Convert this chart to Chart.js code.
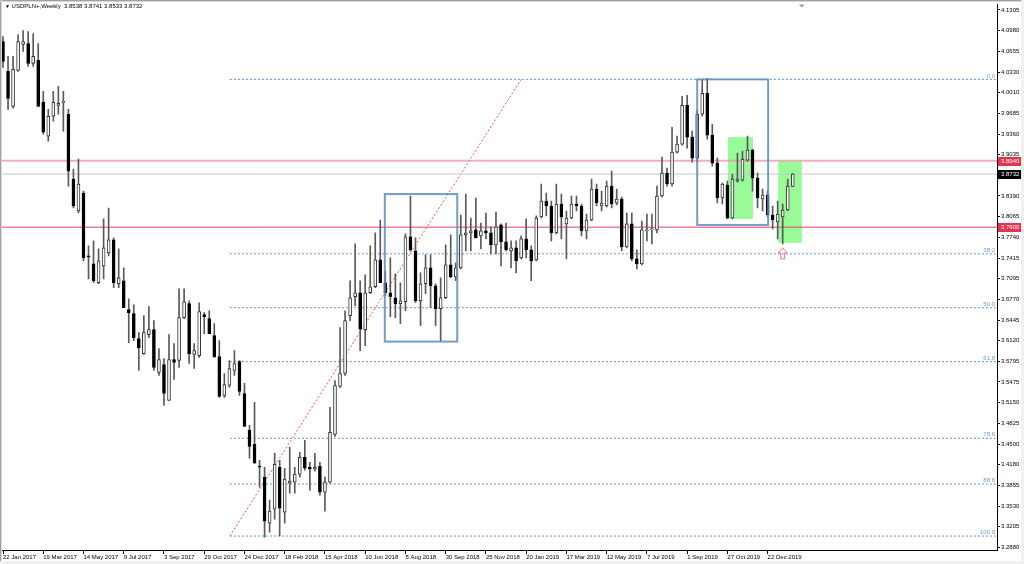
<!DOCTYPE html>
<html>
<head>
<meta charset="utf-8">
<script src="https://cdn.jsdelivr.net/npm/chart.js@4.4.1/dist/chart.umd.min.js"></script>
<style>
  html, body { margin: 0; padding: 0; background: #fff; }
  #wrap { position: relative; width: 1024px; height: 564px; overflow: hidden; }
  #title { position: absolute; left: 5px; top: 3px; font: 6px "Liberation Sans", Arial, sans-serif; color: #000; white-space: pre; }
  #title span { font-size: 5px; }
</style>
</head>
<body>
<div id="wrap">
  <canvas id="chart" width="1024" height="564"></canvas>
  <div id="title"><span>▼</span> USDPLN+,Weekly  3.8538 3.8741 3.8533 3.8732</div>
</div>
<script>
// weekly candles, 22 Jan 2017 .. Jan 2020
const opens = [
  4.0810, 4.0341, 3.9794, 4.0357, 4.0763, 4.0779, 4.0466, 4.0513, 3.9857, 3.9326,
  3.9638, 3.9810, 3.9857, 3.9669, 3.8654, 3.8154, 3.8435, 3.7451, 3.7326, 3.7029,
  3.7294, 3.7497, 3.7701, 3.7013, 3.7060, 3.6607, 3.6544, 3.6154, 3.5919, 3.6216,
  3.6294, 3.5622, 3.5747, 3.5185, 3.5826, 3.5810, 3.6482, 3.6701, 3.5904, 3.5888,
  3.6529, 3.6466, 3.6201, 3.5872, 3.5263, 3.5419, 3.5654, 3.5794, 3.5294, 3.4716,
  3.4497, 3.4154, 3.3982, 3.3263, 3.3482, 3.4138, 3.3435, 3.3888, 3.3904, 3.4029,
  3.4294, 3.4138, 3.4107, 3.4154, 3.3747, 3.3904, 3.4654, 3.5404, 3.5607, 3.6513,
  3.6810, 3.6872, 3.6294, 3.6872, 3.6966, 3.7388, 3.7029, 3.6872, 3.6794, 3.6701,
  3.6732, 3.7747, 3.7529, 3.6747, 3.7013, 3.7263, 3.6982, 3.6622, 3.6794, 3.7310,
  3.7122, 3.7263, 3.7779, 3.7810, 3.7857, 3.7763, 3.7841, 3.7810, 3.7622, 3.7935,
  3.7669, 3.7529, 3.7576, 3.7419, 3.7716, 3.7544, 3.7388, 3.8060, 3.8310, 3.8232,
  3.7810, 3.8263, 3.7951, 3.8044, 3.8263, 3.8232, 3.7841, 3.8013, 3.8497, 3.8232,
  3.8232, 3.8544, 3.8279, 3.8341, 3.7591, 3.7951, 3.7404, 3.7326, 3.7841, 3.7857,
  3.7857, 3.8388, 3.8747, 3.8576, 3.9076, 3.9201, 3.9810, 3.9310, 3.8982, 3.9669,
  3.9997, 3.9341, 3.8904, 3.8357, 3.8560, 3.8044, 3.8622, 3.8638, 3.8951, 3.9107,
  3.8669, 3.8341, 3.8404, 3.8091, 3.7982, 3.8060, 3.8169, 3.8538
]
const highs = [
  4.0888, 4.0576, 4.0576, 4.0919, 4.0982, 4.0966, 4.0935, 4.0779, 4.0029, 3.9747,
  4.0029, 4.0107, 4.0029, 3.9747, 3.8810, 3.8966, 3.8466, 3.7607, 3.7685, 3.7560,
  3.8029, 3.8201, 3.7732, 3.7560, 3.7263, 3.6779, 3.6685, 3.6247, 3.6513, 3.6654,
  3.6435, 3.5997, 3.5841, 3.6216, 3.6076, 3.6935, 3.6935, 3.6747, 3.6076, 3.6716,
  3.6560, 3.6591, 3.6388, 3.6122, 3.5607, 3.5810, 3.5966, 3.5810, 3.5451, 3.4794,
  3.5154, 3.4247, 3.4138, 3.3622, 3.4357, 3.4247, 3.4122, 3.4451, 3.4138, 3.4372,
  3.4560, 3.4216, 3.4357, 3.4216, 3.3982, 3.5076, 3.5497, 3.6326, 3.6591, 3.7060,
  3.7638, 3.7060, 3.7154, 3.7607, 3.7810, 3.8013, 3.7216, 3.7419, 3.7169, 3.7029,
  3.7794, 3.8388, 3.7732, 3.7185, 3.7466, 3.7466, 3.7013, 3.7107, 3.7622, 3.7779,
  3.7341, 3.8091, 3.8419, 3.8044, 3.8357, 3.7966, 3.8122, 3.7904, 3.8138, 3.7951,
  3.7966, 3.7685, 3.7685, 3.7763, 3.8029, 3.7607, 3.8076, 3.8576, 3.8435, 3.8310,
  3.8576, 3.8419, 3.8154, 3.8388, 3.8388, 3.8263, 3.8107, 3.8654, 3.8576, 3.8466,
  3.8622, 3.8779, 3.8497, 3.8372, 3.8122, 3.8122, 3.7544, 3.7997, 3.8107, 3.8107,
  3.8544, 3.8997, 3.8826, 3.9466, 3.9326, 3.9951, 3.9966, 3.9404, 3.9732, 4.0216,
  4.0232, 3.9513, 3.8982, 3.8591, 3.8622, 3.8732, 3.9060, 3.9091, 3.9326, 3.9122,
  3.8747, 3.8497, 3.8466, 3.8232, 3.8310, 3.8263, 3.8654, 3.8741
]
const lows = [
  4.0404, 3.9747, 3.9763, 4.0341, 4.0654, 4.0419, 4.0419, 3.9794, 3.9357, 3.9247,
  3.9560, 3.9669, 3.9404, 3.8544, 3.8201, 3.8122, 3.7372, 3.7091, 3.7029, 3.7013,
  3.7091, 3.7451, 3.6951, 3.6951, 3.6638, 3.6091, 3.6122, 3.5654, 3.5904, 3.6169,
  3.5654, 3.5576, 3.5107, 3.5185, 3.5513, 3.5701, 3.6466, 3.5763, 3.5685, 3.5857,
  3.6232, 3.6232, 3.5857, 3.5232, 3.5232, 3.5388, 3.5576, 3.5263, 3.4779, 3.4279,
  3.4201, 3.3826, 3.3044, 3.3122, 3.3326, 3.3060, 3.3263, 3.3732, 3.3732, 3.3982,
  3.4091, 3.3779, 3.4076, 3.3701, 3.3451, 3.3888, 3.4622, 3.5388, 3.5576, 3.6435,
  3.6669, 3.5966, 3.6044, 3.6857, 3.6951, 3.7029, 3.6826, 3.6497, 3.6482, 3.6388,
  3.6591, 3.7529, 3.6716, 3.6357, 3.6857, 3.6638, 3.6357, 3.6122, 3.6779, 3.7107,
  3.7060, 3.7247, 3.7529, 3.7529, 3.7732, 3.7560, 3.7716, 3.7482, 3.7482, 3.7294,
  3.7529, 3.7263, 3.7185, 3.7404, 3.7419, 3.7060, 3.7372, 3.8044, 3.8076, 3.7685,
  3.7794, 3.7716, 3.7404, 3.8029, 3.8154, 3.7763, 3.7716, 3.7997, 3.8232, 3.8154,
  3.8216, 3.8201, 3.8247, 3.7529, 3.7576, 3.7372, 3.7247, 3.7310, 3.7685, 3.7638,
  3.7810, 3.8372, 3.8544, 3.8544, 3.9060, 3.9185, 3.9138, 3.8919, 3.8919, 3.9638,
  3.9279, 3.8857, 3.8279, 3.8263, 3.8029, 3.8029, 3.8607, 3.8622, 3.8935, 3.8466,
  3.8201, 3.8154, 3.8060, 3.7872, 3.7716, 3.7638, 3.8154, 3.8533
]
const closes = [
  4.0497, 3.9919, 4.0372, 4.0810, 4.0810, 4.0466, 4.0576, 3.9794, 3.9388, 3.9638,
  3.9857, 3.9841, 3.9872, 3.8779, 3.8232, 3.8576, 3.7419, 3.7435, 3.7060, 3.7372,
  3.7576, 3.7701, 3.7029, 3.7107, 3.6638, 3.6560, 3.6169, 3.6013, 3.6247, 3.6294,
  3.5701, 3.5826, 3.5294, 3.5826, 3.5779, 3.6482, 3.6732, 3.5919, 3.5966, 3.6576,
  3.6497, 3.6232, 3.5872, 3.5247, 3.5435, 3.5685, 3.5763, 3.5326, 3.4779, 3.4466,
  3.4201, 3.4138, 3.3294, 3.3451, 3.4185, 3.3497, 3.3951, 3.3919, 3.4029, 3.4294,
  3.4122, 3.4107, 3.4138, 3.3747, 3.3904, 3.4685, 3.5419, 3.5607, 3.6435, 3.6794,
  3.6872, 3.6310, 3.6872, 3.6966, 3.7388, 3.7029, 3.6872, 3.6810, 3.6701, 3.6747,
  3.7747, 3.7544, 3.6747, 3.7013, 3.7263, 3.6982, 3.6622, 3.6794, 3.7310, 3.7122,
  3.7263, 3.7779, 3.7810, 3.7841, 3.7732, 3.7841, 3.7810, 3.7622, 3.7904, 3.7669,
  3.7544, 3.7576, 3.7372, 3.7716, 3.7544, 3.7372, 3.8044, 3.8310, 3.8232, 3.7810,
  3.8263, 3.8060, 3.8044, 3.8263, 3.8232, 3.7841, 3.8013, 3.8497, 3.8279, 3.8279,
  3.8544, 3.8263, 3.8341, 3.7591, 3.7951, 3.7404, 3.7326, 3.7857, 3.7857, 3.7872,
  3.8388, 3.8747, 3.8576, 3.9076, 3.9201, 3.9810, 3.9310, 3.8982, 3.9669, 3.9997,
  3.9341, 3.8904, 3.8357, 3.8576, 3.8044, 3.8654, 3.8654, 3.8966, 3.9107, 3.8669,
  3.8357, 3.8404, 3.8091, 3.8013, 3.8107, 3.8169, 3.8544, 3.8732
]

// axis labels (one date every 8 weeks)
const xTickLabels = ['22 Jan 2017', '19 Mar 2017', '14 May 2017', '9 Jul 2017', '3 Sep 2017',
  '29 Oct 2017', '24 Dec 2017', '18 Feb 2018', '15 Apr 2018', '10 Jun 2018', '5 Aug 2018',
  '30 Sep 2018', '25 Nov 2018', '20 Jan 2019', '17 Mar 2019', '12 May 2019', '7 Jul 2019',
  '1 Sep 2019', '27 Oct 2019', '22 Dec 2019']
const xTickIndex = xTickLabels.map((_, i) => i * 8)
const yTickValues = [4.1305, 4.0980, 4.0655, 4.0330, 4.0010, 3.9685, 3.9360, 3.9035, 3.8390,
  3.8065, 3.7740, 3.7415, 3.7095, 3.6770, 3.6445, 3.6120, 3.5795, 3.5475, 3.5150, 3.4825,
  3.4500, 3.4180, 3.3855, 3.3530, 3.3205, 3.2880]
const yMin = 3.2841
const yMax = 4.1388

// drawn objects
const fibHigh = 4.0216
const fibLow = 3.3060
const fibFrom = 45.1
const fibTo = 103
const fibRatios = [0, 0.382, 0.5, 0.618, 0.786, 0.886, 1]
const fibNames = ['0.0', '38.2', '50.0', '61.8', '78.6', '88.6', '100.0']
const resistance = 3.8940
const support = 3.7900
const lastPrice = 3.8732
// [fromBar, toBar, lowPrice, highPrice]
const blueBoxes = [[75.9, 90.3, 3.6107, 3.8419], [138, 152.1, 3.7935, 4.0216]]
const greenBoxes = [[144.1, 149.1, 3.8029, 3.9310], [154.1, 158.8, 3.7654, 3.8935]]
const arrowBar = 155
const arrowPrice = 3.7576

const FONT = '"Liberation Sans", Arial, sans-serif'
const fibPrice = r => fibHigh - (fibHigh - fibLow) * r

const wickData = highs.map((h, i) => ({ x: i, y: [lows[i], h] }))
const bodyData = opens.map((o, i) => ({ x: i, y: [o, closes[i]] }))
const flat = p => [{ x: -2, y: p }, { x: 200, y: p }]

const fibSets = fibRatios.map(r => ({
  type: 'line',
  data: [{ x: fibFrom, y: fibPrice(r) }, { x: 200, y: fibPrice(r) }],
  borderColor: '#5f96d4', borderWidth: 1, borderDash: [2, 2],
  pointRadius: 0, order: 8
}))

const overlay = {
  id: 'overlay',
  beforeDraw(chart) {
    const c = chart.ctx
    c.save()
    c.fillStyle = '#fff'
    c.fillRect(0, 0, chart.width, chart.height)
    c.restore()
  },
  beforeDatasetsDraw(chart) {
    const { ctx: c, scales: { x, y } } = chart
    c.save()
    c.fillStyle = '#98fb98'
    greenBoxes.forEach(([a, b, lo, hi]) => {
      const x0 = x.getPixelForValue(a), x1 = x.getPixelForValue(b)
      const y0 = y.getPixelForValue(hi), y1 = y.getPixelForValue(lo)
      c.fillRect(x0, y0, x1 - x0, y1 - y0)
    })
    c.restore()
  },
  afterDatasetsDraw(chart) {
    const { ctx: c, scales: { x, y }, chartArea } = chart
    c.save()
    c.strokeStyle = 'rgba(90,140,190,0.85)'
    c.lineWidth = 2
    blueBoxes.forEach(([a, b, lo, hi]) => {
      const x0 = x.getPixelForValue(a), x1 = x.getPixelForValue(b)
      const y0 = y.getPixelForValue(hi), y1 = y.getPixelForValue(lo)
      c.strokeRect(x0, y0, x1 - x0, y1 - y0)
    })
    // up arrow under the last low
    const ax = x.getPixelForValue(arrowBar), ay = y.getPixelForValue(arrowPrice)
    c.strokeStyle = '#ff6b7d'
    c.lineWidth = 1
    c.beginPath()
    c.moveTo(ax, ay)
    c.lineTo(ax + 4.5, ay + 5)
    c.lineTo(ax + 2, ay + 5)
    c.lineTo(ax + 2, ay + 11)
    c.lineTo(ax - 2, ay + 11)
    c.lineTo(ax - 2, ay + 5)
    c.lineTo(ax - 4.5, ay + 5)
    c.closePath()
    c.stroke()
    // fibonacci level names
    c.fillStyle = '#6a9bd0'
    c.font = '6px ' + FONT
    c.textAlign = 'right'
    c.textBaseline = 'bottom'
    fibRatios.forEach((r, i) => {
      c.fillText(fibNames[i], chartArea.right - 2, y.getPixelForValue(fibPrice(r)) - 0.5)
    })
    c.restore()
  },
  afterDraw(chart) {
    const { ctx: c, scales: { x, y }, chartArea } = chart
    c.save()
    const tag = (p, bg) => {
      const py = Math.round(y.getPixelForValue(p))
      c.fillStyle = bg
      c.fillRect(chartArea.right + 1, py - 4, 25, 9)
      c.fillStyle = '#fff'
      c.font = '6px ' + FONT
      c.textAlign = 'left'
      c.textBaseline = 'middle'
      c.fillText(p.toFixed(4), chartArea.right + 4, py + 0.5)
    }
    tag(resistance, '#e8334f')
    tag(lastPrice, '#000')
    tag(support, '#e8334f')
    // chart shift marker
    const sx = x.getPixelForValue(158.8)
    c.fillStyle = '#9a9a9a'
    c.beginPath()
    c.moveTo(sx - 3, chartArea.top)
    c.lineTo(sx + 3, chartArea.top)
    c.lineTo(sx, chartArea.top + 3)
    c.closePath()
    c.fill()
    // window frame
    c.fillStyle = '#a0a0a0'
    c.fillRect(0, 0, chart.width, 1)
    c.fillRect(0, 0, 1, chart.height)
    c.fillStyle = '#d8d8d8'
    c.fillRect(0, 1, chart.width, 1)
    c.fillRect(1, 0, 1, chart.height)
    c.fillStyle = '#f0f0f0'
    c.fillRect(0, chart.height - 3, chart.width, 3)
    c.fillRect(chart.width - 3, 0, 3, chart.height)
    c.restore()
  }
}

new Chart(document.getElementById('chart').getContext('2d'), {
  type: 'bar',
  data: {
    datasets: [
      ...fibSets,
      {
        type: 'line', data: [{ x: fibFrom, y: fibLow }, { x: fibTo, y: fibHigh }],
        borderColor: '#ff4a4a', borderWidth: 1, borderDash: [2, 2], pointRadius: 0, order: 7
      },
      { type: 'line', data: flat(lastPrice), borderColor: '#c8c8c8', borderWidth: 1, pointRadius: 0, order: 6 },
      { type: 'line', data: flat(resistance), borderColor: 'rgba(240,140,160,0.7)', borderWidth: 2, pointRadius: 0, order: 4 },
      { type: 'line', data: flat(support), borderColor: '#e5405e', borderWidth: 1, pointRadius: 0, order: 4 },
      {
        label: 'wick', data: wickData, backgroundColor: '#5a5a5a', borderWidth: 0,
        barThickness: 1, grouped: false, order: 3
      },
      {
        label: 'body', data: bodyData,
        backgroundColor: c => closes[c.dataIndex] >= opens[c.dataIndex] ? '#fff' : '#000',
        borderColor: c => closes[c.dataIndex] >= opens[c.dataIndex] ? '#333' : '#000',
        borderWidth: 1, borderSkipped: false, barThickness: 3, minBarLength: 1,
        grouped: false, order: 2
      }
    ]
  },
  plugins: [overlay],
  options: {
    responsive: false,
    animation: false,
    devicePixelRatio: 1,
    layout: { padding: { left: 2, top: 3, right: 0, bottom: 0 } },
    plugins: { legend: { display: false }, tooltip: { enabled: false } },
    scales: {
      x: {
        type: 'linear', min: -0.2, max: 197.6, offset: false,
        grid: { drawOnChartArea: false, tickLength: 4, color: '#000', offset: false },
        border: { color: '#000' },
        ticks: {
          align: 'start', padding: 0, maxRotation: 0, autoSkip: false, color: '#000',
          font: { family: FONT, size: 6 },
          callback: (v, i) => xTickLabels[i]
        },
        afterBuildTicks: s => { s.ticks = xTickIndex.map(v => ({ value: v })) },
        afterFit: s => { s.height = 14 }
      },
      y: {
        position: 'right', min: yMin, max: yMax,
        grid: { drawOnChartArea: false, tickLength: 3, color: '#000' },
        border: { color: '#000' },
        ticks: {
          padding: 1, color: '#000', font: { family: FONT, size: 6 },
          callback: v => v.toFixed(4)
        },
        afterBuildTicks: s => { s.ticks = yTickValues.map(v => ({ value: v })) },
        afterFit: s => { s.width = 27 }
      }
    }
  }
})
</script>
</body>
</html>
